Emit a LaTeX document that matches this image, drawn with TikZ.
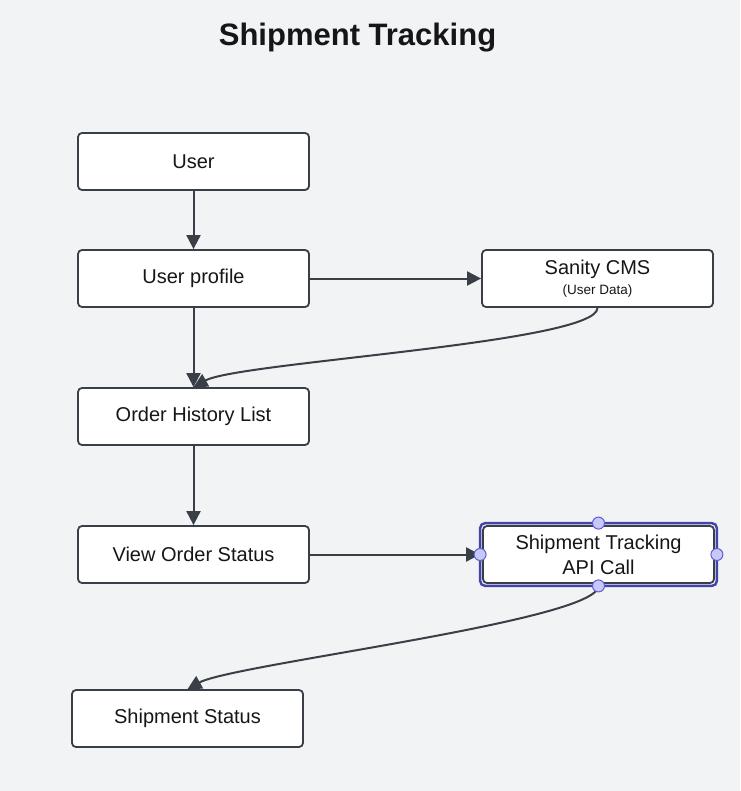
\documentclass[tikz,border=0pt]{standalone}
\usepackage{fontspec}
\setmainfont{Liberation Sans}
\usetikzlibrary{positioning,arrows.meta}
\definecolor{mybg}{RGB}{241,243,245}
\definecolor{myline}{RGB}{58,63,71}
\definecolor{mytext}{RGB}{22,22,24}
\definecolor{myselect}{RGB}{66,68,172}
\definecolor{myhandle}{RGB}{200,200,248}
\definecolor{myhandleline}{RGB}{92,94,214}
\newcommand{\widthbox}{231pt}
\newcommand{\heightbox}{57pt}
\newcommand{\gapdown}{79.2pt}
\tikzset{
    box/.style={draw=myline, fill=white, rounded corners=4pt, line width=1.8pt,
        minimum width=\widthbox, minimum height=\heightbox, text=mytext,
        font=\fontsize{20}{25}\selectfont, align=center},
    flow/.style={draw=myline, line width=2pt, -{Triangle[length=14pt,width=14pt]}},
    handle/.style={circle, draw=myhandleline, fill=myhandle, line width=1pt,
        minimum size=12pt, inner sep=0pt}
}

\begin{document}
\begin{tikzpicture}[x=1pt, y=-1pt, node distance=58.2pt]
    \useasboundingbox[fill=mybg] (0,0) rectangle (740,791);
    \node[text=mytext, font=\bfseries\fontsize{31}{36}\selectfont] (title) at (357.5,38) {Shipment Tracking};

    \node[box] (user) at (193.5,161.5) {User};
    \node[box, below=of user] (profile) {User profile};
    \node[box, right=171.2pt of profile] (cms) {Sanity CMS\\[-5pt]{\fontsize{13.5}{16}\selectfont (User Data)}};
    \node[box, below=\gapdown of profile] (history) {Order History List};
    \node[box, below=\gapdown of history] (status) {View Order Status};
    \node[box, right=172.2pt of status] (api) {Shipment Tracking\\API Call};
    \node[box, below=105.2pt of status, xshift=-6pt] (shipstatus) {Shipment Status};

    % selection frame
    \draw[myselect, line width=2.4pt, rounded corners=5pt]
        ([shift={(-2pt,2pt)}]api.north west) rectangle ([shift={(2pt,-2pt)}]api.south east);

    \draw[flow] (user) -- (profile);
    \draw[flow] (profile) -- (cms);
    \draw[flow] (profile) -- (history);
    \draw[flow] (cms.south) .. controls +(0,35) and +(45,-25) .. (history.north);
    \draw[flow] (history) -- (status);
    \draw[flow] (status) -- ([xshift=-2pt]api.west);
    \draw[flow] ([yshift=-2pt]api.south) .. controls +(0,35) and +(45,-25) .. (shipstatus.north);

    \node[handle] (h-n) at ([yshift=2pt]api.north) {};
    \node[handle] (h-s) at ([yshift=-2pt]api.south) {};
    \node[handle] (h-w) at ([xshift=-2pt]api.west) {};
    \node[handle] (h-e) at ([xshift=2pt]api.east) {};
\end{tikzpicture}
\end{document}
